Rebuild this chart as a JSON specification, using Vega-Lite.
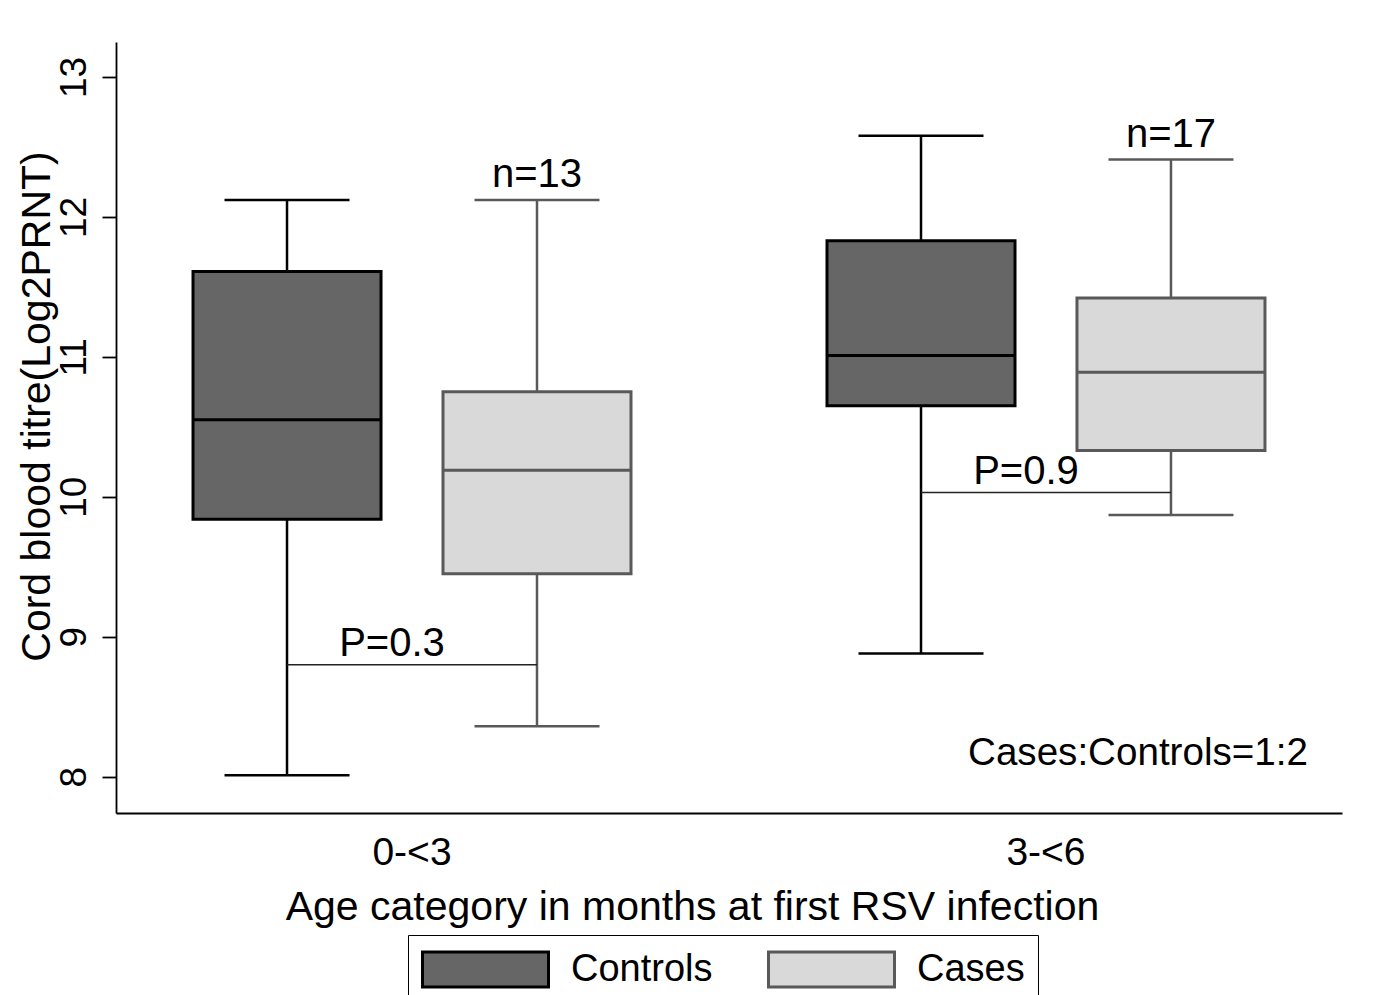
{
  "$schema": "https://vega.github.io/schema/vega-lite/v6.json",
  "width": 1226,
  "height": 771,
  "autosize": "none",
  "padding": {"left": 116, "top": 42, "right": 38, "bottom": 182},
  "background": "white",
  "config": {
    "view": {"stroke": null},
    "font": "Liberation Sans",
    "text": {"font": "Liberation Sans", "color": "#000000"}
  },
  "datasets": {
    "boxes": [
      {"group": "0-<3", "series": "Controls", "lo": 8.01, "q1": 9.84, "med": 10.55, "q3": 11.61, "hi": 12.12},
      {"group": "0-<3", "series": "Cases", "lo": 8.36, "q1": 9.45, "med": 10.19, "q3": 10.75, "hi": 12.12, "n": "n=13"},
      {"group": "3-<6", "series": "Controls", "lo": 8.88, "q1": 10.65, "med": 11.01, "q3": 11.83, "hi": 12.58},
      {"group": "3-<6", "series": "Cases", "lo": 9.87, "q1": 10.33, "med": 10.89, "q3": 11.42, "hi": 12.41, "n": "n=17"}
    ],
    "pvals": [
      {"group": "0-<3", "y": 8.80, "label": "P=0.3"},
      {"group": "3-<6", "y": 10.03, "label": "P=0.9"}
    ]
  },
  "encoding": {
    "x": {
      "field": "group",
      "type": "nominal",
      "scale": {"domain": ["0-<3", "3-<6"], "paddingInner": 0.2114, "paddingOuter": 0.0726},
      "title": "Age category in months at first RSV infection",
      "axis": {
        "domainColor": "#000000",
        "domainWidth": 1.8,
        "ticks": false,
        "tickSize": 0,
        "labelAngle": 0,
        "labelFontSize": 39,
        "labelColor": "#000000",
        "labelBaseline": "top",
        "labelPadding": 20,
        "titleFontSize": 41,
        "titleFontWeight": "normal",
        "titleColor": "#000000",
        "titleX": 576,
        "titleY": 106,
        "titleAlign": "center",
        "titleBaseline": "alphabetic"
      }
    }
  },
  "layer": [
    {
      "data": {"name": "boxes"},
      "mark": {"type": "rule", "strokeWidth": 2.5},
      "encoding": {
        "xOffset": {"field": "series", "scale": {"domain": ["Controls", "Cases"], "paddingInner": 0, "paddingOuter": 0}},
        "y": {
          "field": "lo",
          "type": "quantitative",
          "scale": {"domain": [7.74, 13.25], "nice": false, "zero": false},
          "title": "Cord blood titre(Log2PRNT)",
          "axis": {
            "values": [8, 9, 10, 11, 12, 13],
            "format": "d",
            "grid": false,
            "domainColor": "#000000",
            "domainWidth": 1.8,
            "tickColor": "#000000",
            "tickSize": 14,
            "tickWidth": 1.8,
            "labelFontSize": 37,
            "labelColor": "#000000",
            "labelAngle": -90,
            "labelAlign": "center",
            "labelBaseline": "alphabetic",
            "labelPadding": 17,
            "titleFontSize": 41,
            "titleFontWeight": "normal",
            "titleColor": "#000000",
            "titleAngle": -90,
            "titleX": -79,
            "titleY": 364,
            "titleAlign": "center",
            "titleBaseline": "middle"
          }
        },
        "y2": {"field": "q1"},
        "stroke": {"condition": {"test": "datum.series === 'Cases'", "value": "#595959"}, "value": "#000000"}
      }
    },
    {
      "data": {"name": "boxes"},
      "mark": {"type": "rule", "strokeWidth": 2.5},
      "encoding": {
        "xOffset": {"field": "series", "scale": {"domain": ["Controls", "Cases"]}},
        "y": {"field": "q3", "type": "quantitative", "title": "Cord blood titre(Log2PRNT)"},
        "y2": {"field": "hi"},
        "stroke": {"condition": {"test": "datum.series === 'Cases'", "value": "#595959"}, "value": "#000000"}
      }
    },
    {
      "data": {"name": "boxes"},
      "mark": {"type": "tick", "size": 125, "thickness": 2.5, "orient": "horizontal", "opacity": 1},
      "encoding": {
        "xOffset": {"field": "series", "scale": {"domain": ["Controls", "Cases"]}},
        "y": {"field": "lo", "type": "quantitative", "title": "Cord blood titre(Log2PRNT)"},
        "color": {"condition": {"test": "datum.series === 'Cases'", "value": "#595959"}, "value": "#000000"}
      }
    },
    {
      "data": {"name": "boxes"},
      "mark": {"type": "tick", "size": 125, "thickness": 2.5, "orient": "horizontal", "opacity": 1},
      "encoding": {
        "xOffset": {"field": "series", "scale": {"domain": ["Controls", "Cases"]}},
        "y": {"field": "hi", "type": "quantitative", "title": "Cord blood titre(Log2PRNT)"},
        "color": {"condition": {"test": "datum.series === 'Cases'", "value": "#595959"}, "value": "#000000"}
      }
    },
    {
      "data": {"name": "boxes"},
      "mark": {"type": "bar", "width": 188, "strokeWidth": 3, "opacity": 1},
      "encoding": {
        "xOffset": {"field": "series", "scale": {"domain": ["Controls", "Cases"]}},
        "y": {"field": "q1", "type": "quantitative", "title": "Cord blood titre(Log2PRNT)"},
        "y2": {"field": "q3"},
        "fill": {
          "field": "series",
          "type": "nominal",
          "scale": {"domain": ["Controls", "Cases"], "range": ["#666666", "#d9d9d9"]},
          "legend": {
            "title": null,
            "orient": "none",
            "legendX": 292,
            "legendY": 893,
            "direction": "horizontal",
            "strokeColor": "#000000",
            "fillColor": "#ffffff",
            "padding": 13,
            "symbolType": "M-3.15,-0.875H3.15V0.875H-3.15Z",
            "symbolSize": 1600,
            "symbolOffset": 43,
            "symbolStrokeWidth": 3,
            "symbolOpacity": 1,
            "labelFontSize": 38,
            "labelColor": "#000000",
            "labelOffset": 64,
            "columnPadding": 49
          }
        },
        "stroke": {
          "field": "series",
          "type": "nominal",
          "scale": {"domain": ["Controls", "Cases"], "range": ["#000000", "#595959"]}
        }
      }
    },
    {
      "data": {"name": "boxes"},
      "mark": {"type": "tick", "size": 188, "thickness": 3, "orient": "horizontal", "opacity": 1},
      "encoding": {
        "xOffset": {"field": "series", "scale": {"domain": ["Controls", "Cases"]}},
        "y": {"field": "med", "type": "quantitative", "title": "Cord blood titre(Log2PRNT)"},
        "color": {"condition": {"test": "datum.series === 'Cases'", "value": "#595959"}, "value": "#000000"}
      }
    },
    {
      "data": {"name": "boxes"},
      "transform": [{"filter": "isValid(datum.n)"}],
      "mark": {"type": "text", "fontSize": 40, "baseline": "alphabetic", "align": "center", "dy": -13, "color": "#000000"},
      "encoding": {
        "xOffset": {"field": "series", "scale": {"domain": ["Controls", "Cases"]}},
        "y": {"field": "hi", "type": "quantitative", "title": "Cord blood titre(Log2PRNT)"},
        "text": {"field": "n"}
      }
    },
    {
      "data": {"name": "pvals"},
      "mark": {"type": "tick", "size": 250, "thickness": 1.5, "orient": "horizontal", "color": "#222222", "opacity": 1},
      "encoding": {
        "y": {"field": "y", "type": "quantitative", "title": "Cord blood titre(Log2PRNT)"}
      }
    },
    {
      "data": {"name": "pvals"},
      "mark": {"type": "text", "fontSize": 40, "baseline": "alphabetic", "align": "center", "dx": -20, "dy": -9, "color": "#000000"},
      "encoding": {
        "y": {"field": "y", "type": "quantitative", "title": "Cord blood titre(Log2PRNT)"},
        "text": {"field": "label"}
      }
    },
    {
      "data": {"values": [{"label": "Cases:Controls=1:2"}]},
      "mark": {"type": "text", "fontSize": 38.6, "baseline": "alphabetic", "align": "center", "dx": 92, "color": "#000000"},
      "encoding": {
        "x": {"datum": "3-<6", "type": "nominal"},
        "y": {"datum": 8.08, "type": "quantitative", "title": "Cord blood titre(Log2PRNT)"},
        "text": {"field": "label"}
      }
    }
  ]
}
